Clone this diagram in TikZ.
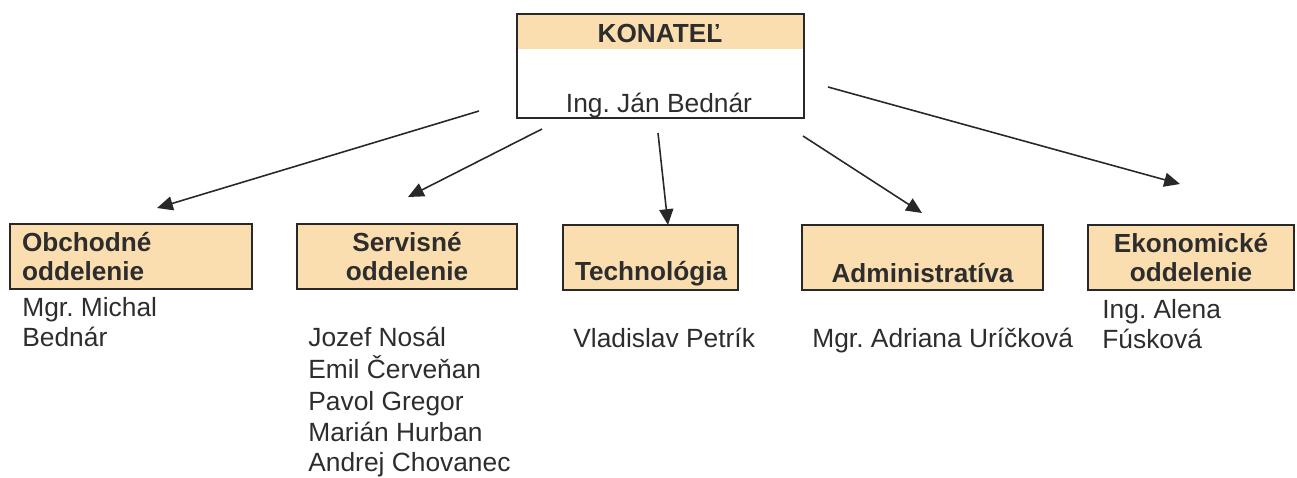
\documentclass[tikz,border=0pt]{standalone}
\usepackage{fontspec}
\setmainfont{Liberation Sans}
\usetikzlibrary{arrows.meta}
\frenchspacing
\definecolor{boxfill}{RGB}{251,222,176}
\definecolor{ink}{RGB}{40,40,40}
\definecolor{txt}{RGB}{45,45,45}
\tikzset{
  deptbox/.style={draw=ink, line width=1.1pt, fill=boxfill, minimum height=1.3cm,
    inner xsep=0.24cm, inner ysep=0pt, align=center, text=txt,
    font=\fontsize{14.9}{17}\selectfont\bfseries},
  headtxt/.style={inner sep=0pt, text=txt, font=\fontsize{14.9}{17}\selectfont\bfseries},
  nametxt/.style={inner sep=0pt, anchor=base west, text=txt, font=\fontsize{15}{17}\selectfont},
  conn/.style={draw=ink, line width=0.9pt, -{Triangle[length=9pt,width=8pt]}}
}
\begin{document}
\begin{tikzpicture}[x=0.02cm,y=-0.02cm]
\useasboundingbox (0,0) rectangle (1297,477);
% top box
\node[draw=ink, line width=1.1pt, minimum width=5.74cm, minimum height=2.08cm, inner sep=0pt,
  path picture={\fill[boxfill] (path picture bounding box.north west) rectangle ([yshift=-0.70cm]path picture bounding box.north east);}]
  (kon) at (660.5,66) {};
\node[headtxt, anchor=base] (kont) at (660,42) {KONATEĽ};
\node[inner sep=0pt, anchor=base, text=txt, font=\fontsize{15}{17}\selectfont] (konn) at (659,112) {Ing. Ján Bednár};
% department boxes
\node[deptbox, minimum width=4.84cm, text width=4.36cm, align=left] (obch) at (131,256.5) {Obchodné\\oddelenie};
\node[deptbox, minimum width=4.40cm, text width=3.92cm] (serv) at (407,256.5) {Servisné\\oddelenie};
\node[deptbox, minimum width=3.50cm, text width=3.02cm] (tech) at (650.5,257.5) {\strut\\Technológia};
\node[deptbox, minimum width=4.82cm, text width=4.34cm] (adm) at (922.5,257.5) {\strut\\Administratíva};
\node[deptbox, minimum width=4.12cm, text width=3.64cm] (eko) at (1191,257.5) {Ekonomické\\oddelenie};
% names
\node[nametxt] (n1a) at (22,316) {Mgr. Michal};
\node[nametxt] (n1b) at (22,346) {Bednár};
\node[nametxt] (n2a) at (308,346) {Jozef Nosál};
\node[nametxt] (n2b) at (308,378) {Emil Červeňan};
\node[nametxt] (n2c) at (308,410) {Pavol Gregor};
\node[nametxt] (n2d) at (308,441) {Marián Hurban};
\node[nametxt] (n2e) at (308,471) {Andrej Chovanec};
\node[nametxt] (n3) at (573,347) {Vladislav Petrík};
\node[nametxt] (n4) at (812,347) {Mgr. Adriana Uríčková};
\node[nametxt] (n5a) at (1102,318) {Ing. Alena};
\node[nametxt] (n5b) at (1102,348) {Fúsková};
% connector ends
\coordinate (s1) at (479,111); \coordinate (e1) at (157,208);
\coordinate (s2) at (542,129); \coordinate (e2) at (408,197);
\coordinate (s3) at (658,133); \coordinate (e3) at (668,225);
\coordinate (s4) at (803,136); \coordinate (e4) at (922,213);
\coordinate (s5) at (828,87);  \coordinate (e5) at (1180,184);
\draw[conn] (s1) -- (e1);
\draw[conn] (s2) -- (e2);
\draw[conn] (s3) -- (e3);
\draw[conn] (s4) -- (e4);
\draw[conn] (s5) -- (e5);
\end{tikzpicture}
\end{document}
